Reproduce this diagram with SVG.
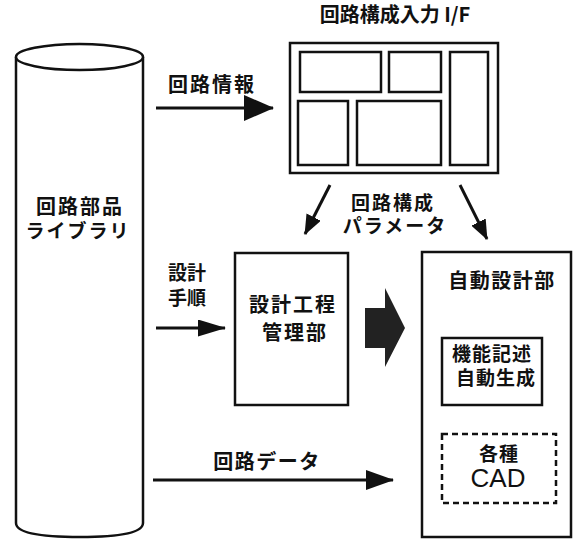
<svg xmlns="http://www.w3.org/2000/svg" width="573" height="539" viewBox="0 0 573 539">
<style>
.t{font-family:"Noto Sans CJK JP","Noto Sans",sans-serif;font-weight:bold;fill:#111;text-anchor:middle}
.b{fill:#fff;stroke:#111;stroke-width:2.5}
.c{stroke:#111;stroke-width:3;fill:none}
</style>
<defs>
<marker id="ah" markerWidth="30" markerHeight="26" refX="29" refY="13" orient="auto" markerUnits="userSpaceOnUse" viewBox="0 0 30 26">
<path d="M0,0 L30,13 L0,26 Z" fill="#111"/>
</marker>
<marker id="am" markerWidth="28" markerHeight="20" refX="27" refY="10" orient="auto" markerUnits="userSpaceOnUse" viewBox="0 0 28 20">
<path d="M0,0 L28,10 L0,20 Z" fill="#111"/>
</marker>
<marker id="as" markerWidth="28" markerHeight="17" refX="27" refY="8.5" orient="auto" markerUnits="userSpaceOnUse" viewBox="0 0 28 17">
<path d="M0,0 L28,8.5 L0,17 Z" fill="#111"/>
</marker>
<marker id="ad" markerWidth="20" markerHeight="16" refX="19" refY="8" orient="auto" markerUnits="userSpaceOnUse" viewBox="0 0 20 16">
<path d="M0,0 L20,8 L0,16 Z" fill="#111"/>
</marker>
</defs>
<rect width="573" height="539" fill="#fff"/>
<g id="library">
<path class="b" d="M16,57 L16,523 Q16,537 80,537 Q143,537 143,523 L143,57"/>
<ellipse class="b" cx="79.5" cy="57" rx="63.5" ry="13"/>
<text class="t" x="80" y="214" font-size="20" letter-spacing="2">回路部品</text>
<text class="t" x="78" y="238" font-size="19" letter-spacing="2">ライブラリ</text>
</g>
<g id="if">
<text class="t" x="395" y="22" font-size="20">回路構成入力 I/F</text>
<rect class="b" x="290" y="43" width="208" height="130"/>
<rect class="b" x="300" y="52" width="81" height="40"/>
<rect class="b" x="389" y="52" width="52" height="40"/>
<rect class="b" x="450" y="52" width="38" height="113"/>
<rect class="b" x="298" y="101" width="50" height="64"/>
<rect class="b" x="357" y="101" width="84" height="64"/>
</g>
<g id="process">
<rect class="b" x="235" y="253" width="113" height="152"/>
<text class="t" x="293" y="312" font-size="20" letter-spacing="2">設計工程</text>
<text class="t" x="295" y="340" font-size="20" letter-spacing="2">管理部</text>
</g>
<g id="auto">
<rect class="b" x="422" y="252" width="149" height="285"/>
<text class="t" x="502" y="288" font-size="20" letter-spacing="1.5">自動設計部</text>
<rect class="b" x="442" y="338" width="100" height="67"/>
<text class="t" x="492" y="361" font-size="19" letter-spacing="1">機能記述</text>
<text class="t" x="496" y="385" font-size="19" letter-spacing="1">自動生成</text>
<rect x="442" y="434" width="114" height="69" fill="none" stroke="#111" stroke-width="2.5" stroke-dasharray="6,4"/>
<text class="t" x="499" y="461" font-size="19" letter-spacing="1">各種</text>
<text x="498" y="487" font-size="26" text-anchor="middle" font-family="'Liberation Sans',Arial,sans-serif" fill="#111">CAD</text>
</g>
<g id="connectors">
<line class="c" x1="156" y1="108" x2="273" y2="108" marker-end="url(#ah)"/>
<line class="c" x1="330" y1="185" x2="305" y2="234" marker-end="url(#ad)"/>
<line class="c" x1="460" y1="185" x2="487" y2="239" marker-end="url(#ad)"/>
<line class="c" x1="156" y1="328" x2="225" y2="328" marker-end="url(#as)"/>
<line class="c" x1="153" y1="480" x2="393" y2="480" marker-end="url(#am)"/>
<path d="M365,308 L385,308 L385,288 L405,328 L385,367 L385,348 L365,348 Z" fill="#222"/>
</g>
<g id="labels">
<text class="t" x="212" y="92" font-size="20" letter-spacing="2">回路情報</text>
<text class="t" x="393" y="210" font-size="19" letter-spacing="2">回路構成</text>
<text class="t" x="395" y="233" font-size="19" letter-spacing="2">パラメータ</text>
<text class="t" x="187" y="280" font-size="19">設計</text>
<text class="t" x="187" y="305" font-size="19">手順</text>
<text class="t" x="267" y="469" font-size="20" letter-spacing="1.5">回路データ</text>
</g>
</svg>
